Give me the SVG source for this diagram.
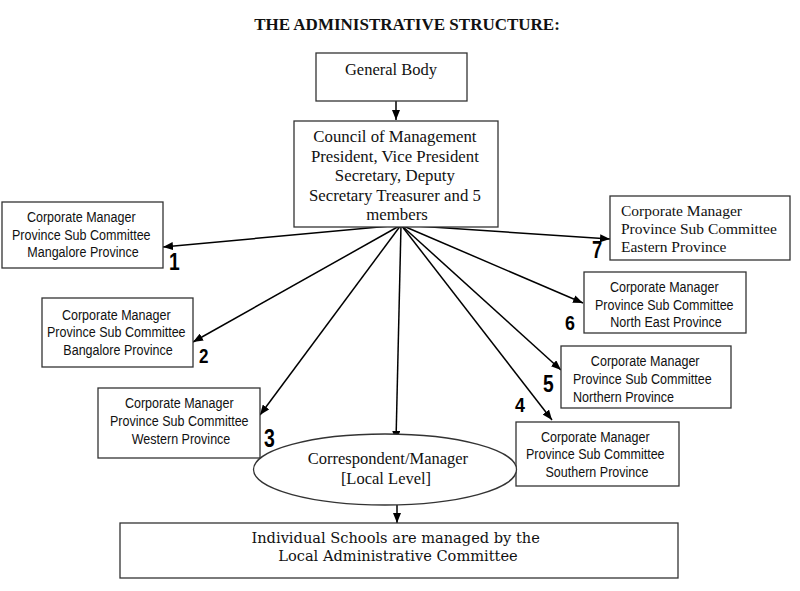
<svg xmlns="http://www.w3.org/2000/svg" width="800" height="591" viewBox="0 0 800 591">
<defs>
<marker id="ah" viewBox="0 0 10 8" refX="10" refY="4" markerWidth="10" markerHeight="8" markerUnits="userSpaceOnUse" orient="auto">
<path d="M0,0 L10,4 L0,8 Z" fill="#000"/>
</marker>
<style>
.box{fill:#fff;stroke:#333;stroke-width:1.3}
.ser{font-family:"Liberation Serif","Times New Roman",serif;fill:#111}
.sans{font-family:"Liberation Sans",Arial,sans-serif;font-size:14.5px;fill:#111}
.bk{font-family:"DejaVu Serif",serif;font-size:14.6px;fill:#111}
.num{font-family:"Liberation Sans",Arial,sans-serif;font-weight:bold;fill:#000}
.c{stroke:#000;stroke-width:1.5;fill:none;marker-end:url(#ah)}
</style>
</defs>
<rect width="800" height="591" fill="#fff"/>
<text class="ser" x="407" y="30" font-size="17" font-weight="bold" text-anchor="middle">THE ADMINISTRATIVE STRUCTURE:</text>

<g id="connectors">
<line class="c" x1="396" y1="101" x2="396" y2="120"/>
<line class="c" x1="401" y1="225" x2="163" y2="247"/>
<line class="c" x1="401" y1="225" x2="193" y2="342"/>
<line class="c" x1="401" y1="225" x2="260" y2="415"/>
<line class="c" x1="401" y1="225" x2="396" y2="441"/>
<line class="c" x1="401" y1="225" x2="552" y2="420"/>
<line class="c" x1="401" y1="225" x2="561" y2="370"/>
<line class="c" x1="401" y1="225" x2="583" y2="303"/>
<line class="c" x1="401" y1="225" x2="610" y2="239"/>
<line class="c" x1="397" y1="505" x2="397" y2="523"/>
</g>

<g id="general-body">
<rect class="box" x="316" y="53" width="151" height="48"/>
<text class="ser" x="391" y="75" font-size="16.5" text-anchor="middle">General Body</text>
</g>

<g id="council">
<rect class="box" x="294" y="121" width="204" height="106"/>
<text class="ser" font-size="16.8" text-anchor="middle">
<tspan x="397" y="142">Council of Management</tspan>
<tspan x="397" y="162">President, Vice President</tspan>
<tspan x="397" y="181">Secretary, Deputy</tspan>
<tspan x="397" y="201">Secretary Treasurer and 5</tspan>
<tspan x="397" y="220">members</tspan>
</text>
</g>

<g id="mangalore">
<rect class="box" x="2" y="202" width="161" height="66"/>
<text class="sans" text-anchor="middle" transform="translate(83,0) scale(0.865,1)">
<tspan x="0" y="222">Corporate Manager</tspan>
<tspan x="0" y="240">Province Sub Committee</tspan>
<tspan x="0" y="257">Mangalore Province</tspan>
</text>
<text class="num" font-size="24" transform="translate(169,270) scale(0.8,1)">1</text>
</g>

<g id="bangalore">
<rect class="box" x="42" y="298" width="151" height="69"/>
<text class="sans" text-anchor="middle" transform="translate(118,0) scale(0.865,1)">
<tspan x="0" y="320">Corporate Manager</tspan>
<tspan x="0" y="337">Province Sub Committee</tspan>
<tspan x="0" y="355">Bangalore Province</tspan>
</text>
<text class="num" font-size="20" transform="translate(199,363) scale(0.85,1)">2</text>
</g>

<g id="western">
<rect class="box" x="98" y="388" width="162" height="70"/>
<text class="sans" text-anchor="middle" transform="translate(181,0) scale(0.865,1)">
<tspan x="0" y="408">Corporate Manager</tspan>
<tspan x="0" y="426">Province Sub Committee</tspan>
<tspan x="0" y="444">Western Province</tspan>
</text>
<text class="num" font-size="26" transform="translate(264,447) scale(0.75,1)">3</text>
</g>

<g id="southern">
<rect class="box" x="516" y="422" width="163" height="64"/>
<text class="sans" text-anchor="middle" transform="translate(597,0) scale(0.865,1)">
<tspan x="0" y="442">Corporate Manager</tspan>
<tspan x="0" y="459">Province Sub Committee</tspan>
<tspan x="0" y="477">Southern Province</tspan>
</text>
<text class="num" font-size="21" transform="translate(515,412) scale(0.85,1)">4</text>
</g>

<g id="northern">
<rect class="box" x="561" y="346" width="170" height="62"/>
<text class="sans" transform="translate(573,0) scale(0.865,1)">
<tspan x="85.5" y="366" text-anchor="middle">Corporate Manager</tspan>
<tspan x="0" y="384">Province Sub Committee</tspan>
<tspan x="0" y="402">Northern Province</tspan>
</text>
<text class="num" font-size="24" transform="translate(543,392) scale(0.8,1)">5</text>
</g>

<g id="north-east">
<rect class="box" x="584" y="272" width="162" height="61"/>
<text class="sans" text-anchor="middle" transform="translate(666,0) scale(0.865,1)">
<tspan x="0" y="292">Corporate Manager</tspan>
<tspan x="0" y="310">Province Sub Committee</tspan>
<tspan x="0" y="327">North East Province</tspan>
</text>
<text class="num" font-size="21" transform="translate(565,330) scale(0.85,1)">6</text>
</g>

<g id="eastern">
<rect class="box" x="610" y="196" width="180" height="64"/>
<text class="ser" font-size="15.5">
<tspan x="621" y="216">Corporate Manager</tspan>
<tspan x="621" y="234">Province Sub Committee</tspan>
<tspan x="621" y="252">Eastern Province</tspan>
</text>
<text class="num" font-size="23" transform="translate(592,258) scale(0.8,1)">7</text>
</g>

<g id="correspondent">
<ellipse cx="385" cy="469.5" rx="131.5" ry="35.5" fill="#fff" stroke="#333" stroke-width="1.3"/>
<text class="ser" font-size="16.5" text-anchor="middle">
<tspan x="390" y="464">Correspondent/Manager</tspan>
<tspan x="386" y="484">[Local Level]</tspan>
</text>
</g>

<g id="schools">
<rect class="box" x="120" y="523" width="558" height="55"/>
<text class="bk" text-anchor="middle">
<tspan x="398" y="543">Individual Schools are managed by the</tspan>
<tspan x="398" y="561">Local Administrative Committee</tspan>
</text>
</g>
</svg>
